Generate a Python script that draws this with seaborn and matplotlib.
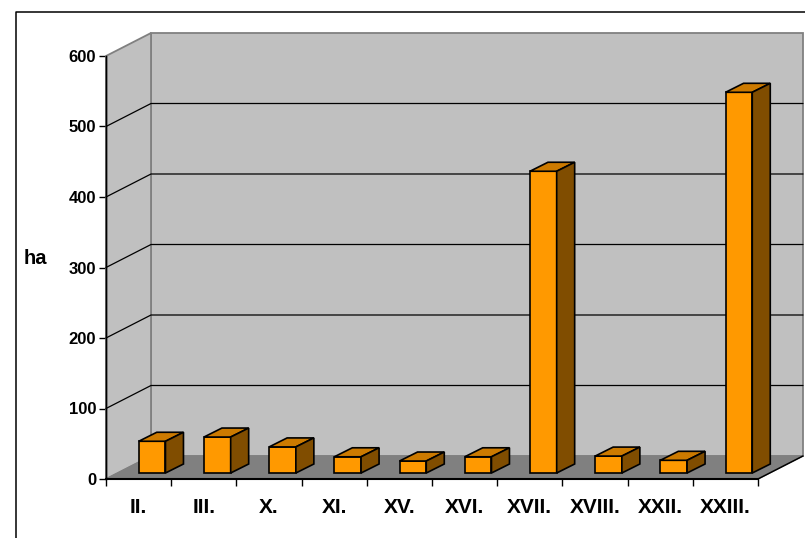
import matplotlib
matplotlib.use('Agg')
import matplotlib.pyplot as plt
import numpy as np
import pandas as pd
import seaborn as sns
from matplotlib.lines import Line2D
from matplotlib.patches import Polygon
from matplotlib.ticker import FixedLocator

districts = ['II.', 'III.', 'X.', 'XI.', 'XV.', 'XVI.', 'XVII.', 'XVIII.', 'XXII.', 'XXIII.']
area_ha = [45, 51, 37, 23, 17, 23, 428, 24, 18, 540]
y_ticks = [0, 100, 200, 300, 400, 500, 600]

W, H = 805, 538
# chart box and 3d depth, in pixels
left, right, top, bottom = 106, 758, 56, 479
wall_dx, wall_dy = 45, 23
bar_shift_x, bar_shift_y = 13.5, 6
bar_dx, bar_dy = 18, 9

sns.set_style('white')
plt.rcParams['font.family'] = ['Liberation Sans', 'DejaVu Sans']
plt.rcParams['font.weight'] = 'bold'

fig = plt.figure(figsize=(W / 100, H / 100), dpi=100)
ax = fig.add_axes([left / W, 1 - bottom / H, (right - left) / W, (bottom - top) / H])
ax.patch.set_visible(False)

df = pd.DataFrame({'district': districts, 'area': area_ha})
sns.barplot(data=df, x='district', y='area', color='#FF9900', saturation=1, width=0.41,
            edgecolor='black', linewidth=1.2, ax=ax, zorder=5)
bars = list(ax.containers[0])

x0, x1 = -0.5, len(districts) - 0.5
y_max = y_ticks[-1]
ax.set_xlim(x0, x1)
ax.set_ylim(0, y_max)

# pixels to data units
ux = (x1 - x0) / (right - left)
uy = y_max / (bottom - top)
wx, wy = wall_dx * ux, wall_dy * uy


def add_poly(pts, face, edge='none', lw=0, z=1):
    ax.add_patch(Polygon(pts, closed=True, facecolor=face, edgecolor=edge, linewidth=lw,
                         zorder=z, clip_on=False))


# walls and floor
add_poly([(x0 + wx, wy), (x1 + wx, wy), (x1 + wx, y_max + wy), (x0 + wx, y_max + wy)],
         '#C0C0C0', '#808080', 1.3)
add_poly([(x0, 0), (x0 + wx, wy), (x0 + wx, y_max + wy), (x0, y_max)], '#C0C0C0', '#808080', 1.3)
add_poly([(x0, 0), (x1, 0), (x1 + wx, wy), (x0 + wx, wy)], '#808080', '#808080', 0.8)
ax.plot([x1, x1 + wx], [0, wy], color='black', lw=1.1, clip_on=False, zorder=3)

# gridlines
for v in y_ticks[1:-1]:
    ax.plot([x0, x0 + wx, x1 + wx], [v, v + wy, v + wy], color='black', lw=0.9,
            clip_on=False, zorder=2)
ax.plot([x0, x0], [0, y_max], color='black', lw=1, clip_on=False, zorder=3)

# bars: move the front faces onto the floor and add top and side faces
sx, sy = bar_shift_x * ux, bar_shift_y * uy
dx, dy = bar_dx * ux, bar_dy * uy
for bar in bars:
    bar.set_x(bar.get_x() + sx)
    bar.set_y(sy)
    bar.set_clip_on(False)
    a, b = bar.get_x(), bar.get_x() + bar.get_width()
    h = bar.get_height() + sy
    add_poly([(a, h), (a + dx, h + dy), (b + dx, h + dy), (b, h)], '#CC7A00', 'black', 1.2, 6)
    add_poly([(b, sy), (b + dx, sy + dy), (b + dx, h + dy), (b, h)], '#804D00', 'black', 1.2, 6)

sns.despine(ax=ax, top=True, right=True)
ax.spines['left'].set_linewidth(1.0)
ax.spines['bottom'].set_linewidth(1.5)
ax.spines['left'].set_color('black')
ax.spines['bottom'].set_color('black')
ax.spines['bottom'].set_zorder(7)

ax.set_yticks(y_ticks)
ax.tick_params(axis='y', left=True, length=5, width=1, pad=2, labelsize=12, colors='black')
ax.tick_params(axis='x', which='major', bottom=False, length=0, pad=14, labelsize=15, colors='black')
ax.xaxis.set_minor_locator(FixedLocator(np.arange(x0, x1 + 1)))
ax.tick_params(axis='x', which='minor', bottom=True, length=5, width=1, color='black')
ax.set_xlabel('')
ax.set_ylabel('ha', rotation=0, fontsize=14.5, fontweight='bold', color='black', va='center')
ax.yaxis.set_label_coords((35 - left) / (right - left), (bottom - 258) / (bottom - top))

# outer frame, open at right and bottom
fig.add_artist(Line2D([16 / W, 16 / W, 1], [0, 1 - 12 / H, 1 - 12 / H], color='black', lw=1.1))

fig.savefig('out.png', dpi=100)
